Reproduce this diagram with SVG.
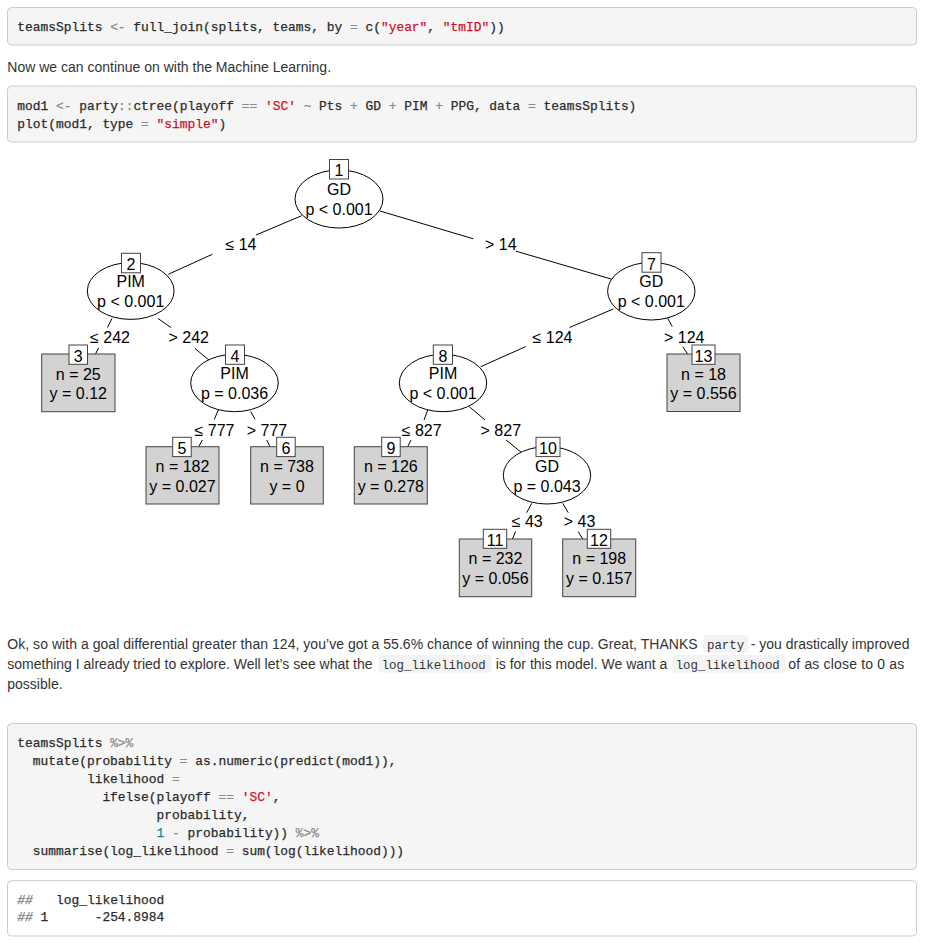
<svg xmlns="http://www.w3.org/2000/svg" width="926" height="946" viewBox="0 0 926 946">
<style>
.page{fill:#fff}
.codebox{fill:#f5f5f5;stroke:#cccccc;stroke-width:1}
.outbox{fill:#ffffff;stroke:#cccccc;stroke-width:1}
.inl{fill:#f3f3f3}
.code{font-family:"Liberation Mono","DejaVu Sans Mono",monospace;font-size:12.9px;fill:#2b2b2b;stroke:#2b2b2b;stroke-width:0.25}
.icode{font-family:"Liberation Mono","DejaVu Sans Mono",monospace;font-size:12.4px;fill:#333}
.op{fill:#8a8a8a;stroke:#8a8a8a}
.str{fill:#d0112b;stroke:#d0112b}
.num{fill:#0f8a9a;stroke:#0f8a9a}
.cm{fill:#7a7a7a;stroke:#7a7a7a;font-style:italic}
.para{font-family:"Liberation Sans",Arial,Helvetica,sans-serif;font-size:14px;fill:#333}
.t{font-family:"Liberation Sans",Arial,Helvetica,sans-serif;font-size:16px;fill:#000;text-anchor:middle}
.ell{fill:#fff;stroke:#000;stroke-width:1}
.term{fill:#d3d3d3;stroke:#444;stroke-width:1}
.idb{fill:#fff;stroke:#444;stroke-width:1}
.edge{stroke:#000;stroke-width:1;fill:none}
</style>
<rect class="page" x="0" y="0" width="926" height="946"/>

<g id="code1">
<rect class="codebox" x="7.5" y="7.5" width="909" height="37.5" rx="4"/>
<text class="code" x="17.3" y="31" xml:space="preserve">teamsSplits <tspan class="op">&lt;-</tspan> full_join(splits, teams, by <tspan class="op">=</tspan> c(<tspan class="str">"year"</tspan>, <tspan class="str">"tmID"</tspan>))</text>
</g>

<text class="para" x="7.3" y="72">Now we can continue on with the Machine Learning.</text>

<g id="code2">
<rect class="codebox" x="7.5" y="86" width="909" height="56" rx="4"/>
<text class="code" x="17.3" y="110.3" xml:space="preserve">mod1 <tspan class="op">&lt;-</tspan> party<tspan class="op">::</tspan>ctree(playoff <tspan class="op">==</tspan> <tspan class="str">'SC'</tspan> <tspan class="op">~</tspan> Pts <tspan class="op">+</tspan> GD <tspan class="op">+</tspan> PIM <tspan class="op">+</tspan> PPG, data <tspan class="op">=</tspan> teamsSplits)</text>
<text class="code" x="17.3" y="128.3" xml:space="preserve">plot(mod1, type <tspan class="op">=</tspan> <tspan class="str">"simple"</tspan>)</text>
</g>

<g id="connectors">
<line class="edge" x1="301.7" y1="215.7" x2="256" y2="235"/>
<line class="edge" x1="212.3" y1="254.3" x2="168.3" y2="274.3"/>
<text class="t" x="241" y="250">≤ 14</text>
<line class="edge" x1="380" y1="211" x2="473.3" y2="238.8"/>
<line class="edge" x1="516" y1="251.2" x2="611.7" y2="279.2"/>
<text class="t" x="500.8" y="250">&gt; 14</text>
<line class="edge" x1="112" y1="318.5" x2="107.5" y2="327.5"/>
<line class="edge" x1="98.5" y1="348" x2="95.5" y2="354"/>
<text class="t" x="110" y="342.7">≤ 242</text>
<line class="edge" x1="158" y1="318.5" x2="171" y2="327.5"/>
<line class="edge" x1="195" y1="348.5" x2="209.5" y2="360.5"/>
<text class="t" x="188.7" y="342.7">&gt; 242</text>
<line class="edge" x1="218.3" y1="410" x2="214.3" y2="419.3"/>
<line class="edge" x1="202.3" y1="440" x2="198.8" y2="446.7"/>
<text class="t" x="214.5" y="436">≤ 777</text>
<line class="edge" x1="250.7" y1="411.5" x2="255" y2="419.3"/>
<line class="edge" x1="266.7" y1="440" x2="270" y2="446.7"/>
<text class="t" x="267" y="436">&gt; 777</text>
<line class="edge" x1="613.3" y1="309" x2="569.5" y2="327.5"/>
<line class="edge" x1="525.7" y1="346.6" x2="480.7" y2="366.7"/>
<text class="t" x="552.5" y="342.7">≤ 124</text>
<line class="edge" x1="667.7" y1="318.3" x2="672.3" y2="326.7"/>
<line class="edge" x1="682.7" y1="346.7" x2="687.7" y2="354"/>
<text class="t" x="684.2" y="342.7">&gt; 124</text>
<line class="edge" x1="427.7" y1="410" x2="424" y2="420"/>
<line class="edge" x1="411" y1="440" x2="407.7" y2="446.7"/>
<text class="t" x="421.7" y="436">≤ 827</text>
<line class="edge" x1="469.3" y1="406.7" x2="485" y2="420"/>
<line class="edge" x1="506" y1="440" x2="521.7" y2="452.7"/>
<text class="t" x="500.8" y="436">&gt; 827</text>
<line class="edge" x1="531.7" y1="503.3" x2="526.7" y2="512.7"/>
<line class="edge" x1="515.5" y1="531.5" x2="512.5" y2="539"/>
<text class="t" x="527.2" y="527.3">≤ 43</text>
<line class="edge" x1="562.7" y1="503.3" x2="568.3" y2="512.7"/>
<line class="edge" x1="578.3" y1="531.7" x2="582.7" y2="539"/>
<text class="t" x="579.5" y="527.3">&gt; 43</text>
</g>

<g id="node1">
<ellipse class="ell" cx="339" cy="199" rx="44" ry="29"/>
<rect class="idb" x="329.5" y="159.5" width="19" height="19.5"/>
<text class="t" x="339" y="176">1</text>
<text class="t" x="339" y="195">GD</text>
<text class="t" x="339" y="215">p &lt; 0.001</text>
</g>
<g id="node2">
<ellipse class="ell" cx="130.7" cy="291" rx="43.4" ry="28.4"/>
<rect class="idb" x="121.5" y="253.3" width="19" height="19.5"/>
<text class="t" x="131" y="270">2</text>
<text class="t" x="130.7" y="287.3">PIM</text>
<text class="t" x="130.7" y="307">p &lt; 0.001</text>
</g>
<g id="node3">
<rect class="term" x="41.7" y="354" width="73.3" height="57.7"/>
<rect class="idb" x="69" y="345" width="18.5" height="19.3"/>
<text class="t" x="78.3" y="361.7">3</text>
<text class="t" x="78.3" y="380">n = 25</text>
<text class="t" x="78.3" y="399.3">y = 0.12</text>
</g>
<g id="node4">
<ellipse class="ell" cx="234.5" cy="383" rx="43.8" ry="28.7"/>
<rect class="idb" x="225.5" y="345" width="19" height="19.3"/>
<text class="t" x="235" y="361.7">4</text>
<text class="t" x="234.5" y="379.3">PIM</text>
<text class="t" x="234.5" y="399">p = 0.036</text>
</g>
<g id="node5">
<rect class="term" x="146" y="446.7" width="73" height="57.3"/>
<rect class="idb" x="172.7" y="437.3" width="18.5" height="19.3"/>
<text class="t" x="182" y="454">5</text>
<text class="t" x="182.5" y="472">n = 182</text>
<text class="t" x="182.5" y="491.7">y = 0.027</text>
</g>
<g id="node6">
<rect class="term" x="250.7" y="446.7" width="72.6" height="57.3"/>
<rect class="idb" x="276.7" y="437.3" width="18.5" height="19.3"/>
<text class="t" x="286" y="454">6</text>
<text class="t" x="287" y="472">n = 738</text>
<text class="t" x="287" y="491.7">y = 0</text>
</g>
<g id="node7">
<ellipse class="ell" cx="651.3" cy="291.2" rx="43.7" ry="28.8"/>
<rect class="idb" x="642" y="252.7" width="19" height="19.5"/>
<text class="t" x="651.5" y="269.5">7</text>
<text class="t" x="651.3" y="287.3">GD</text>
<text class="t" x="651.3" y="307">p &lt; 0.001</text>
</g>
<g id="node8">
<ellipse class="ell" cx="443" cy="383" rx="43.7" ry="28.7"/>
<rect class="idb" x="433.3" y="345" width="19.2" height="19.3"/>
<text class="t" x="443" y="361.7">8</text>
<text class="t" x="443" y="379.3">PIM</text>
<text class="t" x="443" y="399">p &lt; 0.001</text>
</g>
<g id="node9">
<rect class="term" x="354.3" y="446.7" width="73" height="57.3"/>
<rect class="idb" x="381.7" y="437.3" width="18.5" height="19.3"/>
<text class="t" x="391" y="454">9</text>
<text class="t" x="390.8" y="472">n = 126</text>
<text class="t" x="390.8" y="491.7">y = 0.278</text>
</g>
<g id="node10">
<ellipse class="ell" cx="547" cy="475.3" rx="43.7" ry="28.7"/>
<rect class="idb" x="536" y="437.3" width="24" height="19.3"/>
<text class="t" x="548" y="454">10</text>
<text class="t" x="547" y="471.7">GD</text>
<text class="t" x="547" y="491.5">p = 0.043</text>
</g>
<g id="node11">
<rect class="term" x="459.3" y="539" width="72.4" height="57.7"/>
<rect class="idb" x="483.3" y="529.3" width="23.4" height="19"/>
<text class="t" x="495" y="546">11</text>
<text class="t" x="495.5" y="564">n = 232</text>
<text class="t" x="495.5" y="583.5">y = 0.056</text>
</g>
<g id="node12">
<rect class="term" x="562.7" y="539" width="73" height="57.7"/>
<rect class="idb" x="587.3" y="529.3" width="23.4" height="19"/>
<text class="t" x="599" y="546">12</text>
<text class="t" x="599.2" y="564">n = 198</text>
<text class="t" x="599.2" y="583.5">y = 0.157</text>
</g>
<g id="node13">
<rect class="term" x="667" y="354" width="73" height="57.5"/>
<rect class="idb" x="692" y="345" width="23" height="19.3"/>
<text class="t" x="703.5" y="361.7">13</text>
<text class="t" x="703.5" y="380">n = 18</text>
<text class="t" x="703.5" y="399.3">y = 0.556</text>
</g>

<g id="paragraph2">
<rect class="inl" x="703.3" y="635" width="45" height="17.7" rx="3"/>
<rect class="inl" x="378.3" y="655" width="113.4" height="17.7" rx="3"/>
<rect class="inl" x="672.3" y="655" width="113.4" height="17.7" rx="3"/>
<text class="para" x="7.3" y="649" textLength="690.4" lengthAdjust="spacing">Ok, so with a goal differential greater than 124, you’ve got a 55.6% chance of winning the cup. Great, THANKS</text>
<text class="icode" x="707" y="648.5">party</text>
<text class="para" x="750.7" y="649">- you drastically improved</text>
<text class="para" x="7.3" y="669">something I already tried to explore. Well let’s see what the</text>
<text class="icode" x="381.7" y="668.5">log_likelihood</text>
<text class="para" x="495.7" y="669">is for this model. We want a</text>
<text class="icode" x="675.7" y="668.5">log_likelihood</text>
<text class="para" x="788.3" y="669" textLength="116" lengthAdjust="spacing">of as close to 0 as</text>
<text class="para" x="7.3" y="689">possible.</text>
</g>

<g id="code3">
<rect class="codebox" x="7.5" y="723.5" width="909" height="146" rx="4"/>
<text class="code" x="17.3" y="747" xml:space="preserve">teamsSplits <tspan class="op">%&gt;%</tspan></text>
<text class="code" x="17.3" y="765" xml:space="preserve">  mutate(probability <tspan class="op">=</tspan> as.numeric(predict(mod1)),</text>
<text class="code" x="17.3" y="783" xml:space="preserve">         likelihood <tspan class="op">=</tspan></text>
<text class="code" x="17.3" y="801" xml:space="preserve">           ifelse(playoff <tspan class="op">==</tspan> <tspan class="str">'SC'</tspan>,</text>
<text class="code" x="17.3" y="819" xml:space="preserve">                  probability,</text>
<text class="code" x="17.3" y="837" xml:space="preserve">                  <tspan class="num">1</tspan> <tspan class="op">-</tspan> probability)) <tspan class="op">%&gt;%</tspan></text>
<text class="code" x="17.3" y="855" xml:space="preserve">  summarise(log_likelihood <tspan class="op">=</tspan> sum(log(likelihood)))</text>
</g>

<g id="output">
<rect class="outbox" x="7.5" y="880.7" width="909" height="55.3" rx="4"/>
<text class="code" x="17.3" y="903.5" xml:space="preserve"><tspan class="cm">##</tspan>   log_likelihood</text>
<text class="code" x="17.3" y="921" xml:space="preserve"><tspan class="cm">##</tspan> 1      -254.8984</text>
</g>
</svg>
